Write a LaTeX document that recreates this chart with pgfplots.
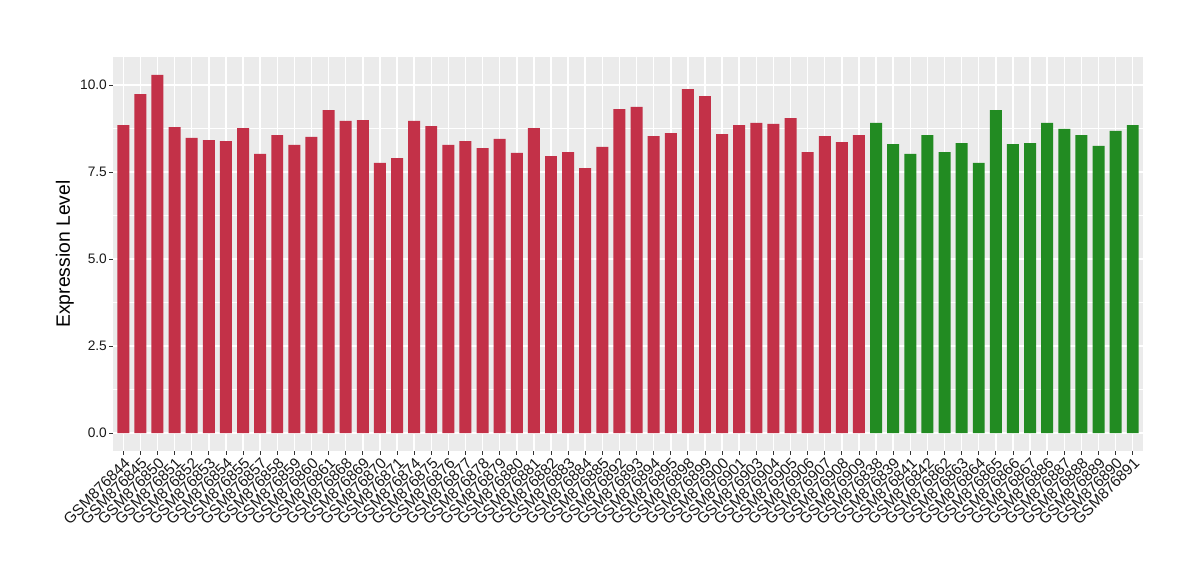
\documentclass[border=0pt]{standalone}
\usepackage{fontspec}
\setmainfont{Liberation Sans}
\usepackage{pgfplots}
\pgfplotsset{compat=1.18}
\definecolor{panelgrey}{RGB}{235,235,235}
\definecolor{barred}{RGB}{195,49,72}
\definecolor{bargreen}{RGB}{34,139,34}
\definecolor{ticktext}{RGB}{25,25,25}
\definecolor{grey20}{RGB}{51,51,51}
\begin{document}
\begin{tikzpicture}
\begin{axis}[
  name=ax, at={(0,0)}, anchor=south west,
  scale only axis, width=772.5pt, height=295.5pt,
  xmin=0.4, xmax=60.6, ymin=-0.515, ymax=10.805,
  axis background/.style={fill=panelgrey},
  axis line style={draw=none},
  xtick={1,...,60},
  xticklabels={GSM876844,GSM876845,GSM876850,GSM876851,GSM876852,GSM876853,GSM876854,GSM876855,GSM876857,GSM876858,GSM876859,GSM876860,GSM876861,GSM876868,GSM876869,GSM876870,GSM876871,GSM876874,GSM876875,GSM876876,GSM876877,GSM876878,GSM876879,GSM876880,GSM876881,GSM876882,GSM876883,GSM876884,GSM876885,GSM876892,GSM876893,GSM876894,GSM876895,GSM876898,GSM876899,GSM876900,GSM876901,GSM876903,GSM876904,GSM876905,GSM876906,GSM876907,GSM876908,GSM876909,GSM876838,GSM876839,GSM876841,GSM876842,GSM876862,GSM876863,GSM876864,GSM876865,GSM876866,GSM876867,GSM876886,GSM876887,GSM876888,GSM876889,GSM876890,GSM876891},
  ytick={0,2.5,5,7.5,10},
  yticklabels={0.0,2.5,5.0,7.5,10.0},
  minor ytick={1.25,3.75,6.25,8.75},
  grid=both,
  major grid style={white, line width=1.1pt},
  minor grid style={white, line width=0.55pt},
  tick align=outside, xtick pos=bottom, ytick pos=left,
  major tick length=2.9pt, minor tick length=0pt,
  tick style={grey20, line width=0.6pt},
  /pgf/number format/assume math mode=true,
  x tick label style={rotate=45, anchor=north east, inner sep=1pt, font=\fontsize{11.5}{13}\selectfont, text=ticktext},
  y tick label style={inner sep=1.5pt, font=\fontsize{10.3}{12}\selectfont, text=ticktext},
  ylabel={Expression Level},
  ylabel style={at={(rel axis cs:0,0.5)}, anchor=center, yshift=36pt, font=\fontsize{14.5}{17}\selectfont, text=black},
]
\addplot[ybar, bar width=0.7, bar shift=0pt, fill=barred, draw=none] coordinates {
(1,8.85) (2,9.74) (3,10.29) (4,8.79) (5,8.48) (6,8.42) (7,8.39) (8,8.76) (9,8.02) (10,8.56)
(11,8.28) (12,8.51) (13,9.28) (14,8.97) (15,8.99) (16,7.76) (17,7.90) (18,8.97) (19,8.82) (20,8.28)
(21,8.39) (22,8.19) (23,8.45) (24,8.05) (25,8.76) (26,7.96) (27,8.07) (28,7.61) (29,8.22) (30,9.31)
(31,9.37) (32,8.53) (33,8.62) (34,9.88) (35,9.68) (36,8.59) (37,8.85) (38,8.91) (39,8.88) (40,9.05)
(41,8.07) (42,8.53) (43,8.36) (44,8.56)};
\addplot[ybar, bar width=0.7, bar shift=0pt, fill=bargreen, draw=none] coordinates {
(45,8.91) (46,8.30) (47,8.02) (48,8.56) (49,8.07) (50,8.33) (51,7.76) (52,9.28) (53,8.30) (54,8.33)
(55,8.91) (56,8.74) (57,8.56) (58,8.25) (59,8.68) (60,8.85)};
\end{axis}
\pgfresetboundingbox
\path ([shift={(-84.75pt,-96.75pt)}]ax.south west) rectangle ([shift={(42.75pt,42.75pt)}]ax.north east);
\end{tikzpicture}
\end{document}
